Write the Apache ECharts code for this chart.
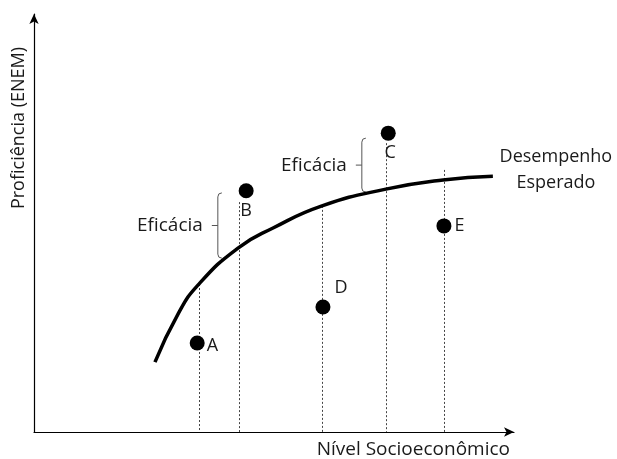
<!DOCTYPE html>
<html>
<head>
<meta charset="UTF-8">
<title>Eficácia escolar</title>
<style>html,body{margin:0;height:100%;background:#fff}#main{width:617px;height:459px}</style>
</head>
<body>
<div id="main"></div>
<script src="https://cdn.jsdelivr.net/npm/echarts@6/dist/echarts.min.js"></script>
<script>
// escolas (pontos)
var schoolNames = ['A', 'B', 'C', 'D', 'E'];
var schoolX = [34, 44.2, 73.8, 60.2, 85.4];
var schoolY = [21.3, 57.7, 71.5, 29.9, 49.3];

// curva do desempenho esperado
var curveX = [25.2, 30.0, 34.2, 42.5, 49.8, 60.0, 73.3, 85.2, 95.6];
var curveY = [16.7, 28.2, 35.2, 44.0, 48.8, 54.1, 58.1, 60.3, 61.2];

// linhas pontilhadas verticais
var dropX = [34.4, 42.7, 60, 73.3, 85.4];
var dropTop = [35.4, 55, 54.1, 69.1, 62.7];

// chaves "Eficácia"
var bracketX = [38.3, 68.3];
var bracketLow = [41.6, 57.4];
var bracketHigh = [57.2, 70.3];
var bracketText = ['Eficácia', 'Eficácia'];

var FONT = '"Open Sans", sans-serif';
var TXT = '#1a1a1a';
var labelStyle = {
    A: { position: 'right', distance: 2, offset: [0, 3] },
    B: { position: 'bottom', distance: 4 },
    C: { position: 'bottom', distance: 3, offset: [2, 0] },
    D: { position: 'right', distance: 4, offset: [0, -19] },
    E: { position: 'right', distance: 3 }
};

var chart = echarts.init(document.getElementById('main'));

var points = schoolNames.map(function (n, i) {
    return { value: [schoolX[i], schoolY[i]], name: n, label: labelStyle[n] };
});
var curve = curveX.map(function (x, i) { return [x, curveY[i]]; });
var drops = dropX.map(function (x, i) { return { coords: [[x, dropTop[i]], [x, 0]] }; });
var brackets = bracketX.map(function (x, i) { return [x, bracketLow[i], bracketHigh[i]]; });

var axisCommon = {
    type: 'value', min: 0, max: 100,
    splitLine: { show: false }, axisTick: { show: false }, axisLabel: { show: false },
    axisLine: { show: true, symbol: ['none', 'arrow'], symbolSize: [7, 10], lineStyle: { color: '#000', width: 1.2 } }
};

chart.setOption({
    animation: false,
    grid: { left: 34, right: 103, top: 14, bottom: 27 },
    xAxis: Object.assign({}, axisCommon, {
        name: 'Nível Socioeconômico', nameLocation: 'end', nameGap: -4,
        nameTextStyle: { fontFamily: FONT, fontSize: 19, color: TXT, align: 'right', verticalAlign: 'top', padding: [8, 0, 0, 0] }
    }),
    yAxis: Object.assign({}, axisCommon, {
        name: 'Proficiência (ENEM)', nameLocation: 'middle', nameGap: 6, nameRotate: 90,
        nameTextStyle: { fontFamily: FONT, fontSize: 18, color: TXT, padding: [0, 0, 0, 190] }
    }),
    series: [
        {
            type: 'lines', coordinateSystem: 'cartesian2d', data: drops, silent: true,
            lineStyle: { color: '#444', width: 1, type: [2, 2], opacity: 1 }
        },
        {
            type: 'line', data: curve, smooth: true, showSymbol: false, silent: true,
            lineStyle: { color: '#000', width: 3.5 },
            endLabel: {
                show: true, formatter: 'Desempenho\nEsperado', fontFamily: FONT, fontSize: 18,
                color: TXT, align: 'center', lineHeight: 26, offset: [55, -6]
            }
        },
        {
            type: 'custom', data: brackets, silent: true,
            renderItem: function (params, api) {
                var top = api.coord([api.value(0), api.value(2)]);
                var bot = api.coord([api.value(0), api.value(1)]);
                var x = top[0], mid = (top[1] + bot[1]) / 2;
                return {
                    type: 'group', children: [
                        { type: 'polyline', shape: { points: [[x + 4, top[1]], [x + 1, top[1] + 1], [x, top[1] + 4], [x, bot[1] - 4], [x + 1, bot[1] - 1], [x + 4, bot[1]]] },
                          style: { stroke: '#555', fill: null, lineWidth: 1 } },
                        { type: 'line', shape: { x1: x - 6, y1: mid, x2: x, y2: mid }, style: { stroke: '#555', lineWidth: 1 } },
                        { type: 'text', style: { text: bracketText[params.dataIndex], x: x - 15, y: mid, align: 'right', verticalAlign: 'middle',
                          fontFamily: FONT, fontSize: 19, fill: TXT } }
                    ]
                };
            }
        },
        {
            type: 'scatter', data: points, symbolSize: 15, silent: true,
            itemStyle: { color: '#000', opacity: 1 },
            label: { show: true, formatter: '{b}', fontFamily: FONT, fontSize: 18, color: TXT }
        }
    ]
});
</script>
</body>
</html>
